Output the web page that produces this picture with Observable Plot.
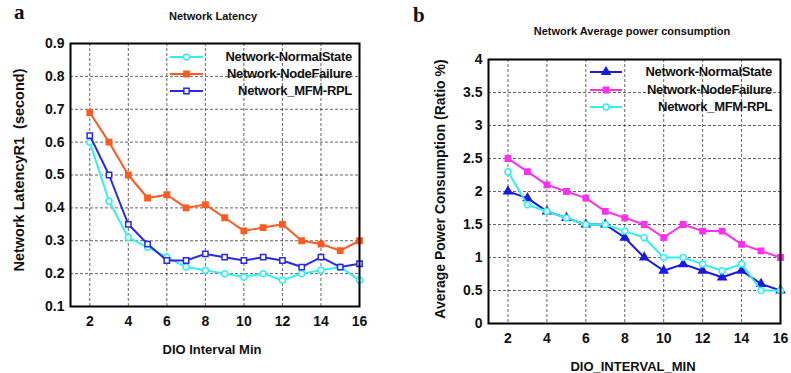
<!DOCTYPE html>
<html><head><meta charset="utf-8">
<script src="https://cdn.jsdelivr.net/npm/d3@7"></script>
<script src="https://cdn.jsdelivr.net/npm/@observablehq/plot@0.6"></script>
<style>
body{margin:0;background:#fff}
#c{position:relative;width:791px;height:373px;overflow:hidden;font-family:"Liberation Sans",Arial,sans-serif;font-weight:bold;color:#111}
.abs{position:absolute;white-space:nowrap}
.panel{position:absolute;top:0}
</style></head><body><div id="c"></div>
<script>
const xs = [2,3,4,5,6,7,8,9,10,11,12,13,14,15,16];
const xTicks = [2,4,6,8,10,12,14,16];

// Panel a: Network Latency
const latNormal = [0.60,0.42,0.31,0.28,0.25,0.22,0.21,0.20,0.19,0.20,0.18,0.20,0.21,0.22,0.18];
const latFailure = [0.69,0.60,0.50,0.43,0.44,0.40,0.41,0.37,0.33,0.34,0.35,0.30,0.29,0.27,0.30];
const latMFM = [0.62,0.50,0.35,0.29,0.24,0.24,0.26,0.25,0.24,0.25,0.24,0.22,0.25,0.22,0.23];
const latYTicks = [0.1,0.2,0.3,0.4,0.5,0.6,0.7,0.8,0.9];

// Panel b: Average power consumption
const powNormal = [2.0,1.9,1.7,1.6,1.5,1.5,1.3,1.0,0.8,0.9,0.8,0.7,0.8,0.6,0.5];
const powFailure = [2.5,2.3,2.1,2.0,1.9,1.7,1.6,1.5,1.3,1.5,1.4,1.4,1.2,1.1,1.0];
const powMFM = [2.3,1.8,1.7,1.6,1.5,1.5,1.4,1.3,1.0,1.0,0.9,0.8,0.9,0.5,0.5];
const powYTicks = [0,0.5,1,1.5,2,2.5,3,3.5,4];

const seriesA = [
  {name:"Network-NormalState", vals:latNormal, color:"#33f0f0", symbol:"circle", fill:"white"},
  {name:"Network-NodeFailure", vals:latFailure, color:"#ff5a1f", symbol:"square", fill:"#ff5a1f"},
  {name:"Network_MFM-RPL", vals:latMFM, color:"#2a2ae6", symbol:"square", fill:"white"}
];
const seriesB = [
  {name:"Network-NormalState", vals:powNormal, color:"#1a1ae0", symbol:"triangle", fill:"#1a1ae0"},
  {name:"Network-NodeFailure", vals:powFailure, color:"#ff2ef0", symbol:"square", fill:"#ff2ef0"},
  {name:"Network_MFM-RPL", vals:powMFM, color:"#33f0f0", symbol:"circle", fill:"white"}
];

const c = document.getElementById("c");

function panel(series, yDomain, yTicks, yFmt, W, m, left, xPad) {
  const marks = [
    Plot.gridX(xTicks.slice(0,-1), {stroke:"#222", strokeOpacity:0.7, strokeDasharray:"3,2"}),
    Plot.gridY(yTicks.slice(1,-1), {stroke:"#222", strokeOpacity:0.7, strokeDasharray:"3,2"}),
    Plot.axisX({ticks:xTicks, tickSize:0, tickPadding:xPad, label:null, fontSize:14}),
    Plot.axisY({ticks:yTicks, tickSize:0, tickPadding:6, label:null, tickFormat:yFmt, fontSize:14})
  ];
  for (const s of series) {
    const data = xs.map((x,i)=>({x, y:s.vals[i]}));
    marks.push(Plot.line(data, {x:"x", y:"y", stroke:s.color, strokeWidth:2}));
    marks.push(Plot.dot(data, {x:"x", y:"y", symbol:s.symbol, r:3, stroke:s.color, strokeWidth:1.5, fill:s.fill}));
  }
  marks.push(Plot.frame({stroke:"black", strokeWidth:2}));
  const p = Plot.plot({
    width:W, height:373,
    marginLeft:m[0], marginRight:m[1], marginTop:m[2], marginBottom:m[3],
    x:{domain:[1,16]}, y:{domain:yDomain},
    style:{fontFamily:"'Liberation Sans', Arial, sans-serif", fontWeight:"bold", fontSize:"14px", color:"#111", background:"transparent", overflow:"visible"},
    marks
  });
  p.classList.add("panel");
  p.style.left = left + "px";
  c.appendChild(p);
}

panel(seriesA, [0.1,0.9], latYTicks, d3.format(".1f"), 400, [70,41,43,67], 0, 10);
panel(seriesB, [0,4], powYTicks, d => String(d), 391, [88,11,59,50], 400, 10);

function txt(t, css) {
  const d = document.createElement("div");
  d.className = "abs"; d.textContent = t;
  Object.assign(d.style, css);
  c.appendChild(d);
  return d;
}
// panel letters
txt("a", {left:"14px", top:"0px", fontFamily:"'Liberation Serif', serif", fontSize:"21px"});
txt("b", {left:"413px", top:"3px", fontFamily:"'Liberation Serif', serif", fontSize:"21px"});
// titles
txt("Network Latency", {left:"213px", top:"10px", fontSize:"11px", transform:"translateX(-50%)"});
txt("Network Average power consumption", {left:"632px", top:"25px", fontSize:"11px", transform:"translateX(-50%)"});
// x labels
txt("DIO Interval Min", {left:"212px", top:"342px", fontSize:"13px", transform:"translateX(-50%)"});
txt("DIO_INTERVAL_MIN", {left:"633px", top:"359px", fontSize:"13px", transform:"translateX(-50%)"});
// y labels
txt("Network LatencyR1  (second)", {left:"19px", top:"170px", fontSize:"14.5px", whiteSpace:"pre", transform:"translate(-50%,-50%) rotate(-90deg)"});
txt("Average Power Consumption (Ratio %)", {left:"440px", top:"189px", fontSize:"14px", transform:"translate(-50%,-50%) rotate(-90deg)"});

// legends
function legend(series, x0, x1, textRight, y0, dy) {
  series.forEach((s, i) => {
    const y = y0 + i*dy;
    const svg = d3.create("svg").attr("width", x1-x0+8).attr("height", 12)
      .style("position","absolute").style("left", (x0-4)+"px").style("top", (y-6)+"px");
    svg.append("line").attr("x1",4).attr("x2",x1-x0+4).attr("y1",6).attr("y2",6)
      .attr("stroke", s.color).attr("stroke-width", 2);
    const sym = {circle:d3.symbolCircle, square:d3.symbolSquare, triangle:d3.symbolTriangle}[s.symbol];
    svg.append("path").attr("d", d3.symbol(sym, 28)())
      .attr("transform", `translate(${(x1-x0)/2+4},6)`)
      .attr("stroke", s.color).attr("stroke-width", 1.5).attr("fill", s.fill);
    c.appendChild(svg.node());
    txt(s.name, {right:(791-textRight)+"px", top:(y-8)+"px", fontSize:"13px", letterSpacing:"-0.3px"});
  });
}
legend(seriesA, 170, 203, 352, 57, 17);
legend(seriesB, 590, 622, 772, 72, 17.5);
</script></body></html>
